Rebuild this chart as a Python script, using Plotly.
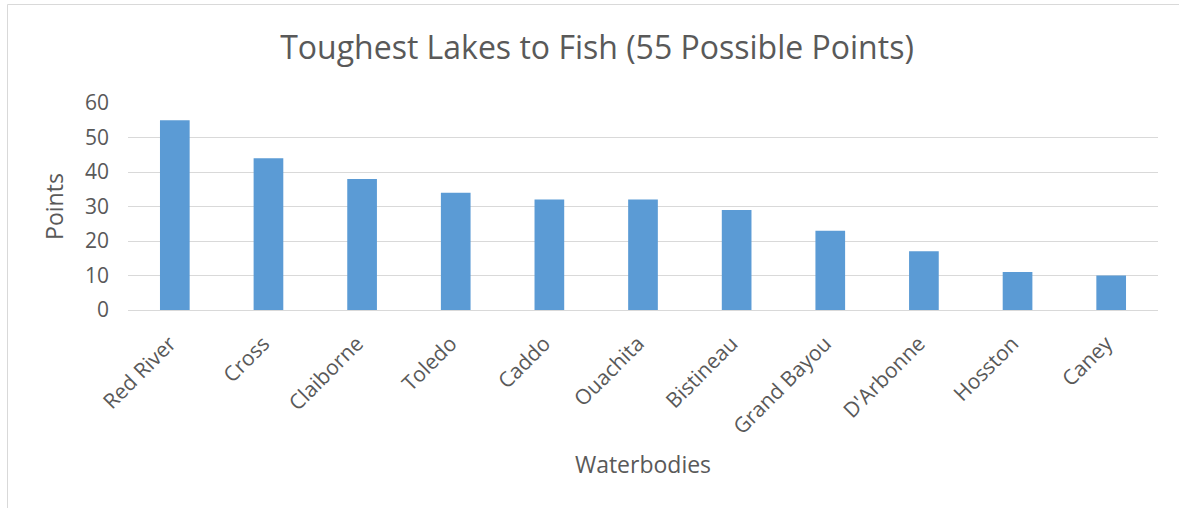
import plotly.graph_objects as go

categories = ["Red River", "Cross", "Claiborne", "Toledo", "Caddo", "Ouachita",
              "Bistineau", "Grand Bayou", "D'Arbonne", "Hosston", "Caney"]
points = [55, 44, 38, 34, 32, 32, 29, 23, 17, 11, 10]
y_ticks = [0, 10, 20, 30, 40, 50, 60]

W, H = 1179, 508
L, R, T, B = 128, 1158, 103, 310
pw, ph = R - L, B - T
TXT = "#595959"

fig = go.Figure(go.Bar(x=categories, y=points, marker=dict(color="#5B9BD5", line=dict(width=0))))

font = "Open Sans, Liberation Sans, sans-serif"
fig.update_layout(
    width=W, height=H,
    margin=dict(l=L, r=W - R, t=T, b=H - B, pad=0),
    paper_bgcolor="white", plot_bgcolor="white",
    bargap=0.683,
    showlegend=False,
    title=dict(text="Toughest Lakes to Fish (55 Possible Points)", x=597 / W, xanchor="center",
               y=1 - 48 / H, yanchor="middle",
               font=dict(family=font, size=32, color=TXT)),
    font=dict(family=font, color=TXT),
)
fig.update_xaxes(tickangle=-45, tickfont=dict(size=21, color=TXT), showgrid=False,
                 showline=True, linecolor="#D9D9D9", linewidth=1, ticks="",
                 ticklabelstandoff=12, ticklabelshift=-5,
                 title=dict(text="Waterbodies", font=dict(size=23, color=TXT), standoff=18))
fig.update_yaxes(range=[0, 60], tickvals=y_ticks, tickfont=dict(size=21, color=TXT),
                 showgrid=True, gridcolor="#D9D9D9", gridwidth=1, zeroline=False, ticks="",
                 ticklabelstandoff=18,
                 title=dict(text="Points", font=dict(size=23, color=TXT), standoff=14))

# chart border
fig.add_shape(type="rect", xref="paper", yref="paper",
              x0=(7.5 - L) / pw, x1=(1190 - L) / pw, y0=(B - 520) / ph, y1=(B - 4.5) / ph,
              line=dict(color="#D9D9D9", width=1), layer="below")

fig.write_html("out.html", config={"displayModeBar": False},
               post_script="document.body.style.margin='0';")
